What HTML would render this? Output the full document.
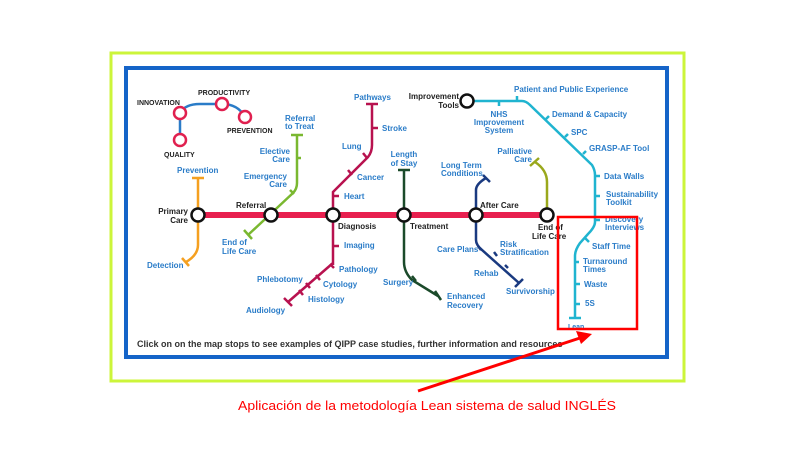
<!DOCTYPE html>
<html><head><meta charset="utf-8"><style>
html,body{margin:0;padding:0;background:#fff;width:800px;height:450px;overflow:hidden}
svg{display:block}
.b{font-family:"Liberation Sans",sans-serif;font-size:8px;font-weight:bold;fill:#2a7cc8}
.k{font-family:"Liberation Sans",sans-serif;font-size:8px;font-weight:bold;fill:#222}
</style></head><body>
<svg width="800" height="450" viewBox="0 0 800 450">
<rect x="111" y="53" width="573" height="328" fill="#fff" stroke="#ccf53a" stroke-width="3"/>
<rect x="126" y="68" width="541" height="289" fill="#fff" stroke="#1564c8" stroke-width="4"/>
<g fill="none" stroke-linecap="butt">
<path d="M180 140 V113 Q185 104 200 104 H222 Q238 104 245 117" stroke="#2a7cc8" stroke-width="2.5"/>
<path d="M198 178 V245 Q198 255 186 262" stroke="#f5a020" stroke-width="2.5"/>
<path d="M192 178 H204 M182 258 L189 266" stroke="#f5a020" stroke-width="2.5"/>
<path d="M248 235 L293 193 Q297 189 297 183 V135" stroke="#7ab830" stroke-width="2.5"/>
<path d="M291 135 H303 M244 230 L252 239 M297 158 H301 M290 190 L294 194" stroke="#7ab830" stroke-width="2.5"/>
<path d="M333 263 L288 302 M333 215 V265 M333 215 V192 L368 157 Q372 152 372 145 V104" stroke="#b8124f" stroke-width="2.5"/>
<path d="M366 104 H378 M373 128 H378 M363 153 L367 158 M348 170 L352 175 M333 196 H339 M333 246 H339 M330 264 L334 268 M316 275 L320 280 M306 283 L310 288 M299 290 L303 295 M284 298 L292 306" stroke="#b8124f" stroke-width="2.5"/>
<path d="M404 170 V262 Q404 272 412 280 L438 296" stroke="#1b4a2a" stroke-width="2.5"/>
<path d="M398 170 H410 M412 276 L416 281 M435 291 L441 300" stroke="#1b4a2a" stroke-width="2.5"/>
<path d="M476 215 V190 Q476 184 486 178 M476 215 V240 Q476 245 482 250 L519 283" stroke="#1a3a80" stroke-width="2.5"/>
<path d="M483 175 L490 182 M478 246 L481 250 M494 252 L497 256 M505 265 L508 268 M515 287 L523 279" stroke="#1a3a80" stroke-width="2.5"/>
<path d="M547 215 V182 Q547 170 535 162" stroke="#9aa81c" stroke-width="2.5"/>
<path d="M530 166 L539 158" stroke="#9aa81c" stroke-width="2.5"/>
<path d="M467 101 H522 Q526 101 530 105 L592 165 Q595 170 595 175 V222 Q595 227 588 234 L580 243 Q575 250 575 256 V318" stroke="#20b4d0" stroke-width="2.5"/>
<path d="M499 101 V106 M517 96 V101 M546 119 L549 116 M565 137 L568 134 M583 154 L586 151 M595 176 H600 M595 196 H600 M595 220 H600 M585 238 L589 242 M575 262 H579 M575 284 H580 M575 304 H580 M569 318 H581" stroke="#20b4d0" stroke-width="2.5"/>
<path d="M198 215 H547" stroke="#e8204f" stroke-width="6"/>
</g>
<g fill="#fff" stroke="#111" stroke-width="2.5">
<circle cx="198" cy="215" r="6.5"/><circle cx="271" cy="215" r="6.5"/><circle cx="333" cy="215" r="6.5"/>
<circle cx="404" cy="215" r="6.5"/><circle cx="476" cy="215" r="6.5"/><circle cx="547" cy="215" r="6.5"/>
<circle cx="467" cy="101" r="6.5"/>
</g>
<g fill="#fff" stroke="#e0204f" stroke-width="2.5">
<circle cx="180" cy="113" r="6"/><circle cx="180" cy="140" r="6"/><circle cx="222" cy="104" r="6"/><circle cx="245" cy="117" r="6"/>
</g>
<g class="k">
<text x="137" y="105" style="font-size:7px">INNOVATION</text>
<text x="198" y="95" style="font-size:7px">PRODUCTIVITY</text>
<text x="227" y="133" style="font-size:7px">PREVENTION</text>
<text x="164" y="157" style="font-size:7px">QUALITY</text>
<text x="188" y="214" text-anchor="end">Primary</text><text x="188" y="223" text-anchor="end">Care</text>
<text x="236" y="208">Referral</text>
<text x="338" y="229">Diagnosis</text>
<text x="410" y="229">Treatment</text>
<text x="480" y="208">After Care</text>
<text x="538" y="230">End of</text><text x="532" y="239">Life Care</text>
<text x="459" y="99" text-anchor="end">Improvement</text><text x="459" y="108" text-anchor="end">Tools</text>
</g>
<g class="b">
<text x="177" y="173">Prevention</text>
<text x="147" y="268">Detection</text>
<text x="285" y="121">Referral</text><text x="285" y="129">to Treat</text>
<text x="290" y="154" text-anchor="end">Elective</text><text x="290" y="162" text-anchor="end">Care</text>
<text x="287" y="179" text-anchor="end">Emergency</text><text x="287" y="187" text-anchor="end">Care</text>
<text x="222" y="245">End of</text><text x="222" y="254">Life Care</text>
<text x="354" y="100">Pathways</text>
<text x="382" y="131">Stroke</text>
<text x="342" y="149">Lung</text>
<text x="357" y="180">Cancer</text>
<text x="344" y="199">Heart</text>
<text x="344" y="248">Imaging</text>
<text x="339" y="272">Pathology</text>
<text x="323" y="287">Cytology</text>
<text x="257" y="282">Phlebotomy</text>
<text x="308" y="302">Histology</text>
<text x="246" y="313">Audiology</text>
<text x="404" y="157" text-anchor="middle">Length</text><text x="404" y="166" text-anchor="middle">of Stay</text>
<text x="383" y="285">Surgery</text>
<text x="447" y="299">Enhanced</text><text x="447" y="308">Recovery</text>
<text x="441" y="168">Long Term</text><text x="441" y="176">Conditions</text>
<text x="437" y="252">Care Plans</text>
<text x="500" y="247">Risk</text><text x="500" y="255">Stratification</text>
<text x="474" y="276">Rehab</text>
<text x="506" y="294">Survivorship</text>
<text x="532" y="154" text-anchor="end">Palliative</text><text x="532" y="162" text-anchor="end">Care</text>
<text x="514" y="92">Patient and Public Experience</text>
<text x="499" y="117" text-anchor="middle">NHS</text><text x="499" y="125" text-anchor="middle">Improvement</text><text x="499" y="133" text-anchor="middle">System</text>
<text x="552" y="117">Demand &amp; Capacity</text>
<text x="571" y="135">SPC</text>
<text x="589" y="151">GRASP-AF Tool</text>
<text x="604" y="179">Data Walls</text>
<text x="606" y="197">Sustainability</text><text x="606" y="205">Toolkit</text>
<text x="605" y="222">Discovery</text><text x="605" y="230">Interviews</text>
<text x="592" y="249">Staff Time</text>
<text x="583" y="264">Turnaround</text><text x="583" y="272">Times</text>
<text x="584" y="287">Waste</text>
<text x="585" y="306">5S</text>
<text x="568" y="329" style="font-size:7px">Lean</text>
</g>
<text x="137" y="347" class="k" style="font-size:9px;fill:#333">Click on on the map stops to see examples of QIPP case studies, further information and resources</text>
<rect x="558" y="217" width="79" height="112" fill="none" stroke="#f00" stroke-width="2.5"/>
<line x1="418" y1="391" x2="580" y2="338" stroke="#f00" stroke-width="3"/>
<polygon points="592,334 576,331 581,344" fill="#f00"/>
<text x="427" y="410" text-anchor="middle" textLength="378" lengthAdjust="spacingAndGlyphs" style="font-family:'Liberation Sans',sans-serif;font-size:13px;fill:#f00">Aplicación de la metodología Lean sistema de salud INGLÉS</text>
</svg>
</body></html>
